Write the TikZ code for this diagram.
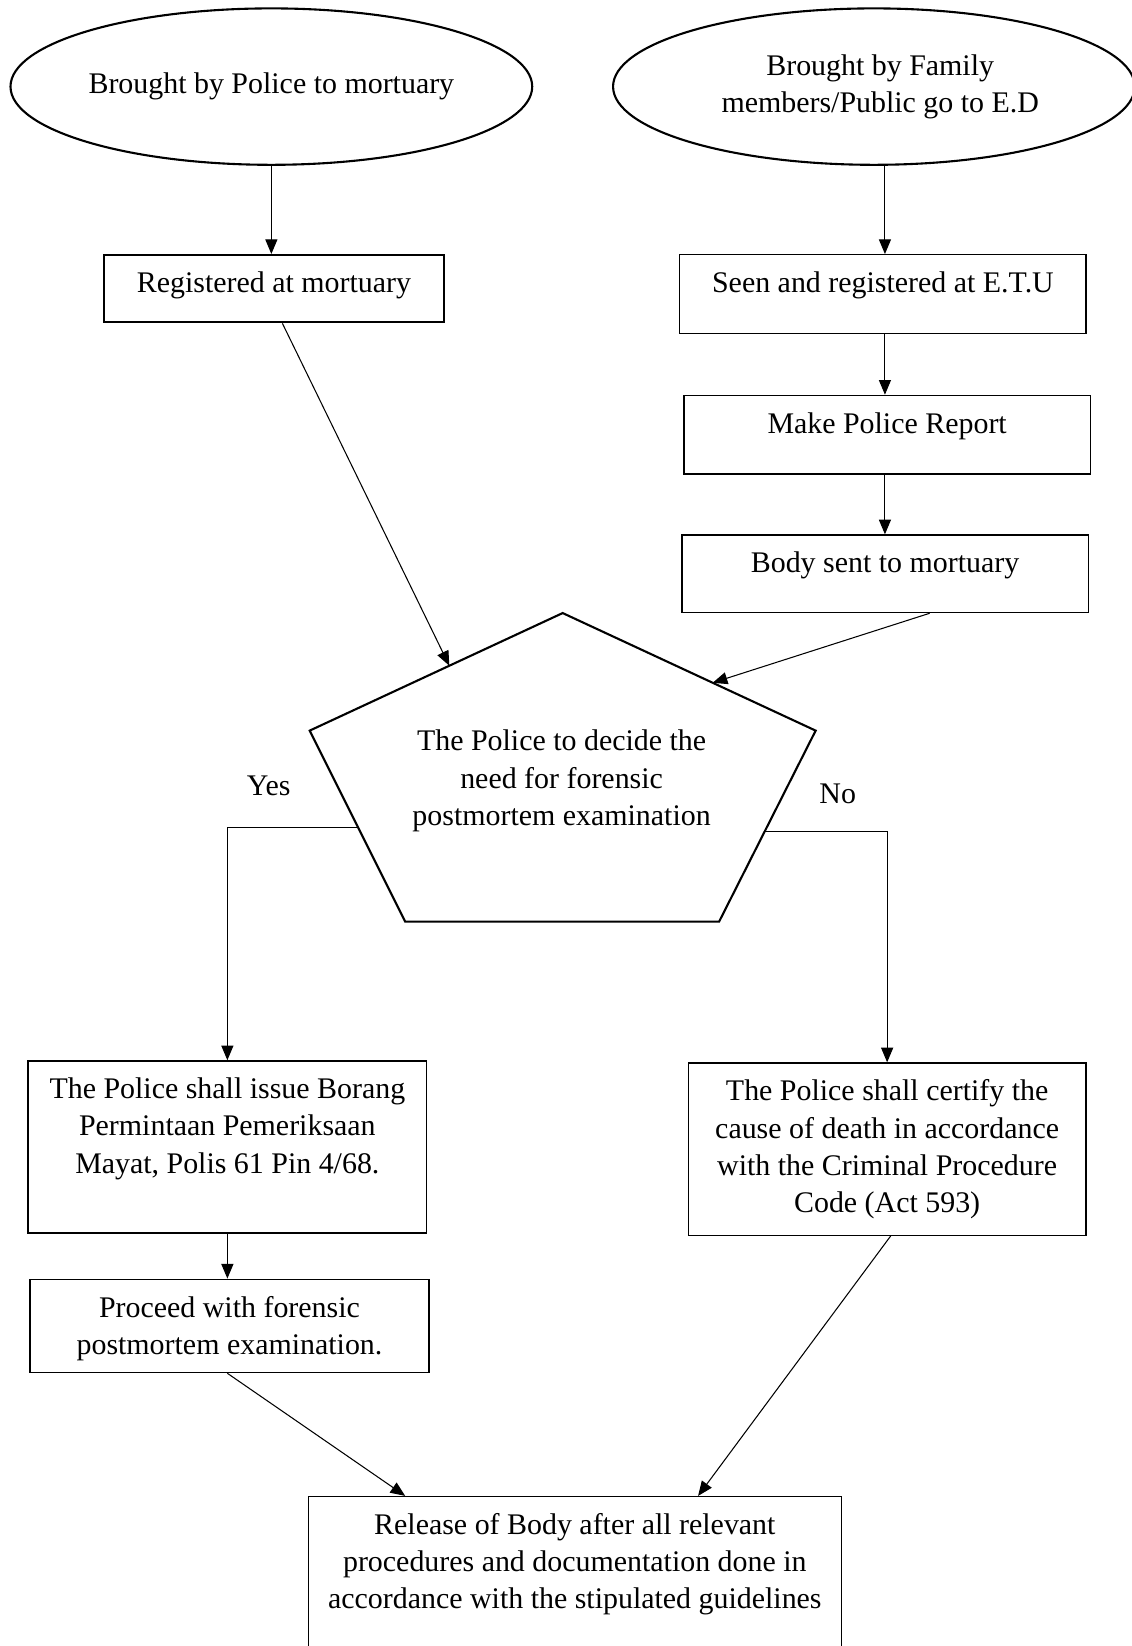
\documentclass[tikz,border=0pt]{standalone}
\usepackage{fontspec}
\setmainfont{Liberation Serif}
\usetikzlibrary{arrows.meta,shapes.geometric,calc}
% top-aligned, centred text block of fixed width and height
\newcommand\cellpar[3]{\parbox[c][#2][t]{#1}{\centering\rule{0pt}{36pt}#3}}

\begin{document}
\begin{tikzpicture}[x=1pt, y=-1pt,
  every node/.style={font=\fontsize{28.5}{35.5}\selectfont},
  oval/.style={ellipse, draw, line width=2pt, minimum width=497pt, minimum height=149pt, inner sep=0pt, align=center},
  stepbox/.style={draw, line width=1.2pt, inner sep=0pt, anchor=north west},
  thickbox/.style={stepbox, line width=2pt},
  arr/.style={-{Triangle[length=14pt,width=11.5pt]}, line width=1pt},
  lbl/.style={inner sep=0pt}]

\useasboundingbox[fill=white] (0,0) rectangle (1078,1568);

% start points
\node[oval] (e1) at (258.5,82.5) {\raisebox{2pt}{Brought by Police to mortuary}};
\node[oval] (e2) at (832.5,82.5) {\hspace*{12pt}Brought by Family\\\hspace*{12pt}members/Public go to E.D};

% right-hand column
\node[thickbox] (reg) at (98,242) {\cellpar{324pt}{64pt}{Registered at mortuary}};
\node[stepbox] (seen) at (647,242) {\cellpar{387pt}{75pt}{Seen and registered at E.T.U}};
\node[stepbox] (report) at (651,376) {\cellpar{387pt}{75pt}{Make Police Report}};
\node[stepbox] (sent) at (649,509) {\cellpar{387pt}{74pt}{Body sent to mortuary}};

% decision pentagon
\coordinate (pT) at (536,584);
\coordinate (pUR) at (777,696);
\coordinate (pLR) at (685,878);
\coordinate (pLL) at (386,878);
\coordinate (pUL) at (295,696);
\draw[line width=2pt, line join=miter] (pT) -- (pUR) -- (pLR) -- (pLL) -- (pUL) -- cycle;
\node[align=center] (decide) at (535,744) {The Police to decide the\\need for forensic\\postmortem examination};
\coordinate (pInL) at ($(pT)!0.448!(pUL)$);
\coordinate (pInR) at ($(pT)!0.593!(pUR)$);
\coordinate (yesOut) at ($(pUL)!0.505!(pLL)$);
\coordinate (noOut) at ($(pUR)!0.527!(pLR)$);

% outcome boxes
\node[stepbox] (borang) at (26,1010) {\cellpar{380pt}{164pt}{The Police shall issue Borang\\Permintaan Pemeriksaan\\Mayat, Polis 61 Pin 4/68.}};
\node[stepbox] (proceed) at (28,1218) {\cellpar{380pt}{89pt}{Proceed with forensic\\postmortem examination.}};
\node[stepbox] (certify) at (655,1012) {\cellpar{379pt}{164pt}{The Police shall certify the\\cause of death in accordance\\with the Criminal Procedure\\Code (Act 593)}};
\node[stepbox] (release) at (293,1425) {\cellpar{508pt}{200pt}{Release of Body after all relevant\\procedures and documentation done in\\accordance with the stipulated guidelines}};

% branch labels
\node[lbl] (yes) at (256,749) {Yes};
\node[lbl] (no) at (798,756) {No};

% connectors
\coordinate (rcol) at (843,0);
\draw[arr] (e1.south) -- (e1.south |- reg.north);
\draw[arr] (rcol |- e2.south) -- (rcol |- seen.north);
\draw[arr] (rcol |- seen.south) -- (rcol |- report.north);
\draw[arr] (rcol |- report.south) -- (rcol |- sent.north);
\draw[arr] ($(reg.south)+(8,0)$) -- (pInL);
\draw[arr] ($(sent.south)+(42.5,0)$) -- (pInR);
\draw[arr] (yesOut) -- (yesOut -| borang.north) -- (borang.north);
\draw[arr] (noOut) -| (certify.north);
\draw[arr] (borang.south) -- (borang.south |- proceed.north);
\draw[arr] ($(proceed.south)+(-2,0)$) -- ($(release.north west)+(93,0)$);
\draw[arr] ($(certify.south)+(3.5,0)$) -- ($(release.north west)+(372,0)$);
\end{tikzpicture}
\end{document}
